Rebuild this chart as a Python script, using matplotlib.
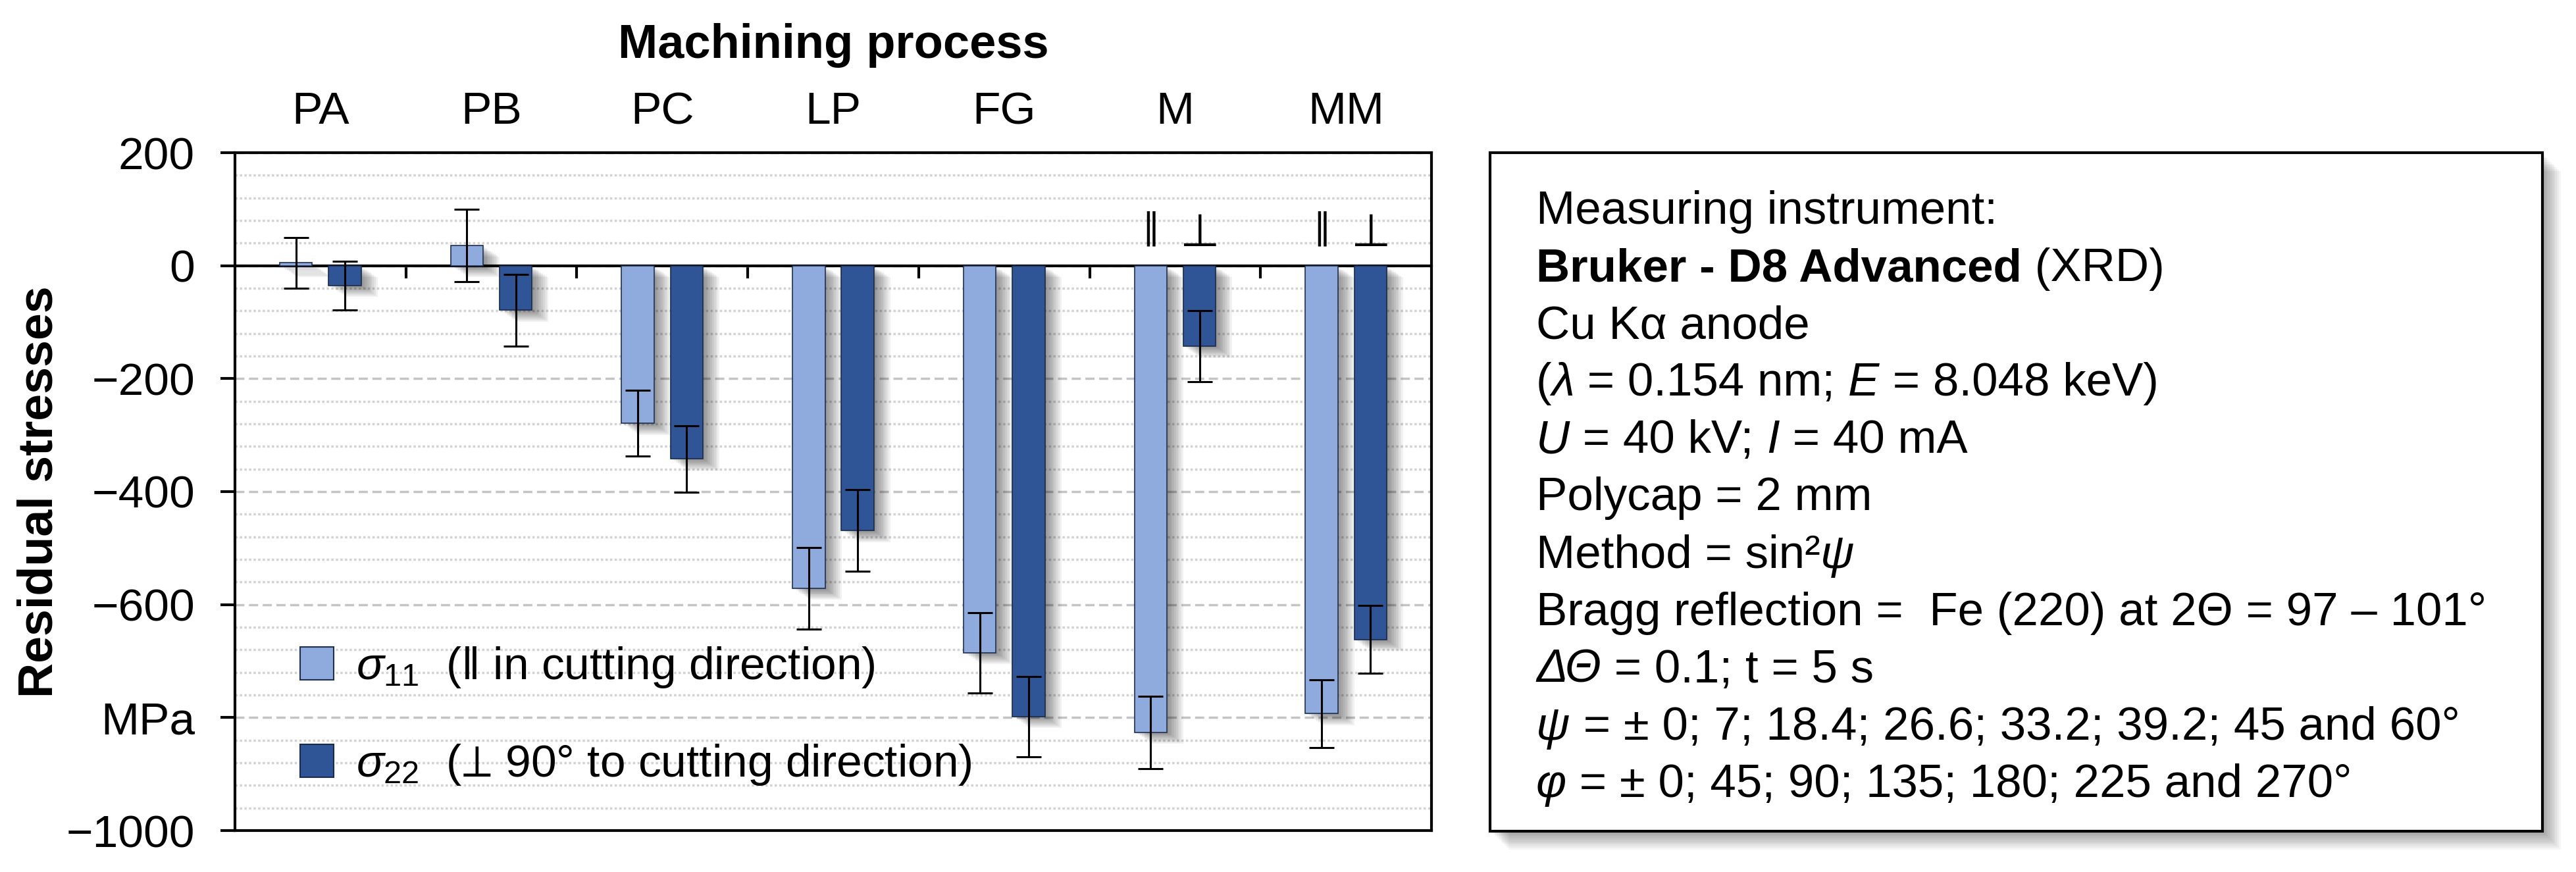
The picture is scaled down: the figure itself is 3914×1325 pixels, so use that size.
import matplotlib
matplotlib.use('Agg')
import matplotlib.pyplot as plt
import matplotlib.patheffects as pe
from matplotlib.patches import Patch, Rectangle
from matplotlib.ticker import MultipleLocator, FixedLocator
import numpy as np

plt.rcParams['font.family'] = ['Liberation Sans', 'DejaVu Sans']
plt.rcParams['mathtext.fontset'] = 'custom'
plt.rcParams['mathtext.rm'] = 'Liberation Sans'
plt.rcParams['mathtext.it'] = 'Liberation Sans:italic'
plt.rcParams['mathtext.bf'] = 'Liberation Sans:bold'
plt.rcParams['mathtext.fallback'] = 'stix'

# data (MPa)
processes = ['PA', 'PB', 'PC', 'LP', 'FG', 'M', 'MM']
sigma11 = [5, 36, -279, -571, -685, -826, -793]
sigma11_err = [45, 64, 58, 72, 71, 64, 60]
sigma22 = [-35, -79, -342, -469, -798, -143, -662]
sigma22_err = [43, 64, 59, 72, 71, 63, 60]
marked = ['M', 'MM']

y_ticks = [200, 0, -200, -400, -600, -800, -1000]
y_tick_labels = ['200', '0', '\u2212200', '\u2212400', '\u2212600', 'MPa', '\u22121000']

label11 = r'$\sigma_{11}$' + '  (\u2016 in cutting direction)'
label22 = r'$\sigma_{22}$' + '  ($\u22a5$ 90\u00b0 to cutting direction)'

# text of the info box, (segment, style) with n = normal, b = bold, i = italic
info_lines = [
    [('Measuring instrument:', 'n')],
    [('Bruker - D8 Advanced', 'b'), (' (XRD)', 'n')],
    [('Cu K\u03b1 anode', 'n')],
    [('(', 'n'), ('\u03bb', 'i'), (' = 0.154 nm; ', 'n'), ('E', 'i'), (' = 8.048 keV)', 'n')],
    [('U', 'i'), (' = 40 kV; ', 'n'), ('I', 'i'), (' = 40 mA', 'n')],
    [('Polycap = 2 mm', 'n')],
    [('Method = sin\u00b2', 'n'), ('\u03c8', 'i')],
    [('Bragg reflection =  Fe (220) at 2\u0398 = 97 \u2013 101\u00b0', 'n')],
    [('\u0394\u0398', 'i'), (' = 0.1; t = 5 s', 'n')],
    [('\u03c8', 'i'), (' = \u00b1 0; 7; 18.4; 26.6; 33.2; 39.2; 45 and 60\u00b0', 'n')],
    [('\u03c6', 'i'), (' = \u00b1 0; 45; 90; 135; 180; 225 and 270\u00b0', 'n')],
]

light = '#8FAADC'
dark = '#2F5597'
W, H = 3914, 1325

fig = plt.figure(figsize=(W / 100, H / 100), dpi=100)
ax = fig.add_axes([357 / W, 1 - 1262 / H, (2175 - 357) / W, (1262 - 232) / H])

x = np.arange(len(processes))
off = 0.143
bw = 0.19

shadow = [pe.SimplePatchShadow(offset=(o, -0.7 * o), shadow_rgbFace='black', alpha=0.055)
          for o in range(2, 20, 2)] + [pe.Normal()]

b1 = ax.bar(x - off, sigma11, bw, color=light, edgecolor='#1F2F4F', linewidth=1.2, zorder=3)
b2 = ax.bar(x + off, sigma22, bw, color=dark, edgecolor='#1A2A4A', linewidth=1.2, zorder=3)
for p in list(b1) + list(b2):
    p.set_path_effects(shadow)

ax.errorbar(x - off, sigma11, yerr=sigma11_err, fmt='none', ecolor='black',
            elinewidth=2.2, capsize=14, capthick=2.2, zorder=5)
ax.errorbar(x + off, sigma22, yerr=sigma22_err, fmt='none', ecolor='black',
            elinewidth=2.2, capsize=14, capthick=2.2, zorder=5)

# direction symbols above the M and MM bars
for name in marked:
    i = processes.index(name)
    ax.text(i - off, 35, '\u2016', ha='center', va='bottom', fontsize=38,
            family='DejaVu Sans', zorder=6)
    ax.text(i + off, 35, '\u22a5', ha='center', va='baseline', fontsize=50,
            family='DejaVu Sans', zorder=6)

ax.set_xlim(-0.5, len(processes) - 0.5)
ax.set_ylim(-1000, 200)

# y axis
ax.yaxis.set_major_locator(FixedLocator(y_ticks))
ax.set_yticklabels(y_tick_labels)
ax.yaxis.set_minor_locator(MultipleLocator(40))
ax.tick_params(axis='y', which='major', labelsize=50, length=16, width=3, pad=28)
ax.tick_params(axis='y', which='minor', length=0)
ax.set_axisbelow(True)
ax.yaxis.grid(True, which='major', linestyle=(0, (4, 2)), color='#C4C4C4', linewidth=2.5)
ax.yaxis.grid(True, which='minor', linestyle=(0, (1, 1)), color='#D2D2D2', linewidth=2.5)
ax.set_ylabel('Residual stresses', fontsize=53, fontweight='bold', labelpad=4)

# x axis: zero line with group separators, category names on top
ax.spines['bottom'].set_position(('data', 0))
ax.set_xticks(x)
ax.set_xticklabels(processes)
ax.xaxis.set_minor_locator(FixedLocator(x[:-1] + 0.5))
ax.tick_params(axis='x', which='major', bottom=False, top=False, labelbottom=False,
               labeltop=True, labelsize=50, pad=18)
ax.tick_params(axis='x', which='minor', bottom=True, top=False, direction='out',
               length=14, width=3)
ax.xaxis.set_label_position('top')
ax.set_xlabel('Machining process', fontsize=52, fontweight='bold', labelpad=36)
for s in ax.spines.values():
    s.set_linewidth(3)
ax.axhline(-1000, color='black', linewidth=3, clip_on=False, zorder=6)

handles = [Patch(facecolor=light, edgecolor='#1F2F4F', linewidth=1.5, label=label11),
           Patch(facecolor=dark, edgecolor='#1A2A4A', linewidth=1.5, label=label22)]
ax.legend(handles=handles, loc='lower left', bbox_to_anchor=(0.0545, 0.064), frameon=False,
          fontsize=50, handlelength=0.73, handleheight=0.73, handletextpad=0.5,
          labelspacing=1.15, borderpad=0, borderaxespad=0)

# info box
box = Rectangle((2264 / W, 1 - 1263 / H), (3863 - 2264) / W, (1263 - 232) / H,
                transform=fig.transFigure, facecolor='white', edgecolor='black',
                linewidth=3, zorder=1)
box.set_path_effects([pe.SimplePatchShadow(offset=(o, -o), shadow_rgbFace='black', alpha=0.04)
                      for o in range(2, 22, 2)] + [pe.Normal()])
fig.add_artist(box)

renderer = fig.canvas.get_renderer()
for k, parts in enumerate(info_lines):
    xp = 2334 / W
    yp = 1 - (340 + 87.1 * k) / H
    for txt, kind in parts:
        kw = {}
        if kind == 'b':
            kw['fontweight'] = 'bold'
        if kind == 'i':
            kw['fontstyle'] = 'italic'
        t = fig.text(xp, yp, txt, fontsize=51, ha='left', va='baseline', zorder=2, **kw)
        xp += t.get_window_extent(renderer).width / W

fig.savefig('out.png', dpi=100)
